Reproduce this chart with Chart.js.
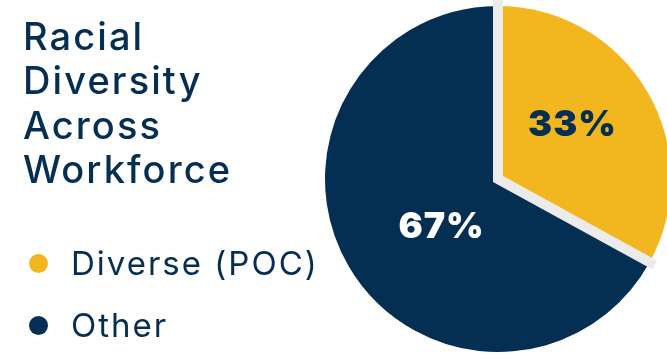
<!DOCTYPE html>
<html>
<head>
<meta charset="utf-8">
<script src="https://cdn.jsdelivr.net/npm/chart.js@4"></script>
<style>
  html, body { margin: 0; padding: 0; background: #ffffff; }
  #wrap { position: relative; width: 667px; height: 354px; overflow: hidden; }
  #pie { position: absolute; left: 0; top: 0; }
  #title {
    position: absolute; left: 23px; top: 14px; margin: 0;
    font-family: Inter, "Open Sans", sans-serif; font-weight: 500;
    font-size: 38px; line-height: 44.3px; color: #052e53; letter-spacing: 2.1px;
  }
  #legend { position: absolute; left: 29px; top: 232px; margin: 0; padding: 0; list-style: none; }
  #legend li {
    display: flex; align-items: center; height: 62px;
    font-family: Inter, "Open Sans", sans-serif; font-weight: 400;
    font-size: 33px; color: #052e53; letter-spacing: 2px;
  }
  #legend .dot { width: 19px; height: 19px; border-radius: 50%; margin-right: 23px; flex: none; }
</style>
</head>
<body>
<div id="wrap">
  <canvas id="pie" width="667" height="354"></canvas>
  <h1 id="title">Racial<br>Diversity<br>Across<br>Workforce</h1>
  <ul id="legend"></ul>
</div>
<script>
// Workforce split by race
const categories = ['Diverse (POC)', 'Other'];
const shares = [33, 67];
const sliceColors = ['#f2b71e', '#052e53'];
const labelColors = ['#052e53', '#ffffff'];
// nudges for the percentage labels relative to each slice's centre point
const labelNudge = [[0, -10], [18, 4]];

// light grey rule drawn along every slice boundary, running a little past the rim
const separators = {
  id: 'separators',
  afterDatasetsDraw(chart) {
    const arcs = chart.getDatasetMeta(0).data;
    const ctx = chart.ctx;
    ctx.save();
    ctx.strokeStyle = '#ebebeb';
    ctx.lineWidth = 10;
    ctx.lineJoin = 'miter';
    ctx.lineCap = 'butt';
    const a = arcs[0];
    const r = a.outerRadius + 6;
    ctx.beginPath();
    ctx.moveTo(a.x + Math.cos(a.startAngle) * r, a.y + Math.sin(a.startAngle) * r);
    ctx.lineTo(a.x, a.y);
    ctx.lineTo(a.x + Math.cos(a.endAngle) * r, a.y + Math.sin(a.endAngle) * r);
    ctx.stroke();
    ctx.restore();
  }
};

// percentage text inside each slice
const sliceLabels = {
  id: 'sliceLabels',
  afterDraw(chart) {
    const arcs = chart.getDatasetMeta(0).data;
    const ctx = chart.ctx;
    ctx.save();
    ctx.font = '900 36px Inter, "Open Sans", sans-serif';
    if ('letterSpacing' in ctx) ctx.letterSpacing = '1px';
    ctx.textAlign = 'center';
    ctx.textBaseline = 'middle';
    arcs.forEach((arc, i) => {
      const p = arc.getCenterPoint();
      ctx.fillStyle = labelColors[i];
      ctx.fillText(shares[i] + '%', p.x + labelNudge[i][0], p.y + labelNudge[i][1]);
    });
    ctx.restore();
  }
};

const chart = new Chart(document.getElementById('pie'), {
  type: 'pie',
  data: {
    labels: categories,
    datasets: [{
      data: shares,
      backgroundColor: sliceColors,
      borderWidth: 0
    }]
  },
  options: {
    responsive: false,
    animation: false,
    radius: 173,
    layout: { padding: { left: 329, top: 4, right: 0, bottom: 0 } },
    plugins: {
      legend: { display: false },
      tooltip: { enabled: false }
    }
  },
  plugins: [separators, sliceLabels]
});

// legend list built from the chart's own labels and colours
const legend = document.getElementById('legend');
chart.data.labels.forEach((label, i) => {
  const li = document.createElement('li');
  const dot = document.createElement('span');
  dot.className = 'dot';
  dot.style.background = chart.data.datasets[0].backgroundColor[i];
  li.appendChild(dot);
  li.appendChild(document.createTextNode(label));
  legend.appendChild(li);
});
</script>
</body>
</html>
